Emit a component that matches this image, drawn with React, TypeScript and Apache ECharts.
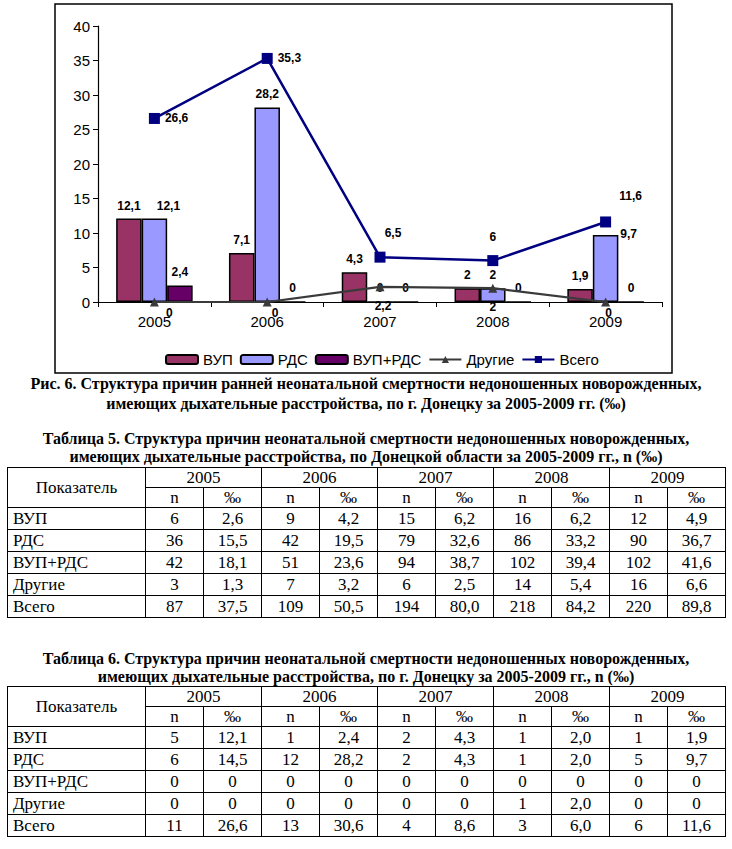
import React, { useEffect, useRef } from "react";
import * as echarts from "echarts";

const years = ["2005", "2006", "2007", "2008", "2009"];
const vup = [12.1, 7.1, 4.3, 2, 1.9];
const rds = [12.1, 28.2, 0, 2, 9.7];
const vupRds = [2.4, 0, 0, 0, 0];
const other = [0, 0, 2.2, 2, 0];
const total = [26.6, 35.3, 6.5, 6, 11.6];
const yMin = 0;
const yMax = 40;
const yStep = 5;

const rowNames = ["ВУП", "РДС", "ВУП+РДС", "Другие", "Всего"];
const t5N = [
  [6, 9, 15, 16, 12],
  [36, 42, 79, 86, 90],
  [42, 51, 94, 102, 102],
  [3, 7, 6, 14, 16],
  [87, 109, 194, 218, 220],
];
const t5P = [
  ["2,6", "4,2", "6,2", "6,2", "4,9"],
  ["15,5", "19,5", "32,6", "33,2", "36,7"],
  ["18,1", "23,6", "38,7", "39,4", "41,6"],
  ["1,3", "3,2", "2,5", "5,4", "6,6"],
  ["37,5", "50,5", "80,0", "84,2", "89,8"],
];
const t6N = [
  [5, 1, 2, 1, 1],
  [6, 12, 2, 1, 5],
  [0, 0, 0, 0, 0],
  [0, 0, 0, 1, 0],
  [11, 13, 4, 3, 6],
];
const t6P = [
  ["12,1", "2,4", "4,3", "2,0", "1,9"],
  ["14,5", "28,2", "4,3", "2,0", "9,7"],
  ["0", "0", "0", "0", "0"],
  ["0", "0", "0", "2,0", "0"],
  ["26,6", "30,6", "8,6", "6,0", "11,6"],
];

const SANS = '"Liberation Sans", Arial, sans-serif';
const SERIF = '"Liberation Serif", "Times New Roman", serif';

const fmt = (v: number) => String(v).replace(".", ",");

// label placement styles (not data)
const otherLabelOffsets = [[15, -5], [8, -5], [3, 4], [0, 3], [3, -5]];
const totalLabelCfg: any[] = [
  { position: "right", offset: [0, 0] },
  { position: "right", offset: [0, 0] },
  { position: "top", offset: [13, -8] },
  { position: "top", offset: [0, -7] },
  { position: "top", offset: [25, -9] },
];

function Chart() {
  const ref = useRef<HTMLDivElement>(null);
  useEffect(() => {
    if (!ref.current) return;
    const chart = echarts.init(ref.current, null, { renderer: "svg" });
    const barLabel = {
      show: true,
      position: "top",
      distance: 7,
      color: "#000",
      fontWeight: "bold",
      fontSize: 12,
      fontFamily: SANS,
      formatter: (p: any) => fmt(p.value),
    };
    chart.setOption({
      animation: false,
      backgroundColor: "#fff",
      textStyle: { fontFamily: SANS },
      grid: { left: 98, right: 70, top: 26, bottom: 78 },
      legend: {
        left: 160,
        top: 347,
        itemWidth: 32,
        itemHeight: 9,
        itemGap: 7,
        textStyle: { fontSize: 15, color: "#000", fontFamily: SANS },
        data: ["ВУП", "РДС", "ВУП+РДС", "Другие", "Всего"],
      },
      graphic: [
        {
          type: "rect",
          shape: { x: 55, y: 4, width: 617, height: 369 },
          style: { fill: "none", stroke: "#000", lineWidth: 1.5 },
          silent: true,
        },
      ],
      xAxis: {
        type: "category",
        data: years,
        axisLine: { lineStyle: { color: "#000", width: 1.2 } },
        axisTick: { show: true, length: 5, lineStyle: { color: "#000" } },
        axisLabel: { color: "#000", fontSize: 15, margin: 12, fontFamily: SANS },
        splitLine: { show: false },
      },
      yAxis: {
        type: "value",
        min: yMin,
        max: yMax,
        interval: yStep,
        axisLine: { show: true, lineStyle: { color: "#000", width: 1.2 } },
        axisTick: { show: true, length: 5, lineStyle: { color: "#000" } },
        axisLabel: { color: "#000", fontSize: 15, margin: 8, fontFamily: SANS },
        splitLine: { show: false },
      },
      series: [
        {
          name: "ВУП",
          type: "bar",
          data: vup,
          barWidth: 25.5,
          barGap: "0%",
          itemStyle: { color: "#993366", borderColor: "#000", borderWidth: 1.5 },
          label: barLabel,
        },
        {
          name: "РДС",
          type: "bar",
          data: rds.map((v, i) =>
            i === 4
              ? {
                  value: v,
                  label: { position: ["100%", 0], align: "left", verticalAlign: "middle", offset: [2, -1] },
                }
              : i === 0
              ? { value: v, label: { offset: [14, 0] } }
              : v
          ),
          barWidth: 25.5,
          barGap: "0%",
          itemStyle: { color: "#9999FF", borderColor: "#000", borderWidth: 1.5 },
          label: barLabel,
        },
        {
          name: "ВУП+РДС",
          type: "bar",
          data: vupRds,
          barWidth: 25.5,
          barGap: "0%",
          itemStyle: { color: "#660066", borderColor: "#000", borderWidth: 1.5 },
          label: barLabel,
        },
        {
          name: "Другие",
          type: "line",
          z: 5,
          data: other.map((v, i) => ({ value: v, label: { offset: otherLabelOffsets[i] } })),
          symbol: "triangle",
          symbolSize: 9,
          lineStyle: { color: "#3a3a3a", width: 2.2 },
          itemStyle: { color: "#3a3a3a" },
          label: {
            show: true,
            position: "bottom",
            color: "#000",
            fontWeight: "bold",
            fontSize: 12,
            fontFamily: SANS,
            formatter: (p: any) => fmt(p.value),
          },
        },
        {
          name: "Всего",
          type: "line",
          z: 6,
          data: total.map((v, i) => ({ value: v, label: totalLabelCfg[i] })),
          symbol: "rect",
          symbolSize: 11,
          lineStyle: { color: "#000080", width: 2.5 },
          itemStyle: { color: "#000080" },
          label: {
            show: true,
            color: "#000",
            fontWeight: "bold",
            fontSize: 12,
            fontFamily: SANS,
            distance: 5,
            formatter: (p: any) => fmt(p.value),
          },
        },
      ],
    });
    return () => chart.dispose();
  }, []);
  return <div ref={ref} style={{ position: "absolute", left: 0, top: 0, width: 732, height: 380 }} />;
}

const cell: React.CSSProperties = {
  border: "1px solid #000",
  padding: 0,
  textAlign: "center",
  fontFamily: SERIF,
  fontSize: 17,
  lineHeight: "18px",
  whiteSpace: "nowrap",
};

function DataTable({ top, nData, pData }: { top: number; nData: number[][]; pData: string[][] }) {
  return (
    <table
      style={{
        position: "absolute",
        left: 7,
        top,
        width: 719,
        borderCollapse: "collapse",
        tableLayout: "fixed",
      }}
    >
      <colgroup>
        <col style={{ width: 138 }} />
        {years.map((y) => (
          <React.Fragment key={y}>
            <col style={{ width: 58 }} />
            <col style={{ width: 58 }} />
          </React.Fragment>
        ))}
      </colgroup>
      <tbody>
        <tr style={{ height: 20 }}>
          <td rowSpan={2} style={cell}>
            Показатель
          </td>
          {years.map((y) => (
            <td key={y} colSpan={2} style={cell}>
              {y}
            </td>
          ))}
        </tr>
        <tr style={{ height: 20 }}>
          {years.map((y) => (
            <React.Fragment key={y}>
              <td style={cell}>n</td>
              <td style={cell}>‰</td>
            </React.Fragment>
          ))}
        </tr>
        {rowNames.map((r, ri) => (
          <tr key={r} style={{ height: 22 }}>
            <td style={{ ...cell, textAlign: "left", paddingLeft: 5 }}>{r}</td>
            {years.map((y, yi) => (
              <React.Fragment key={y}>
                <td style={cell}>{nData[ri][yi]}</td>
                <td style={cell}>{pData[ri][yi]}</td>
              </React.Fragment>
            ))}
          </tr>
        ))}
      </tbody>
    </table>
  );
}

const caption: React.CSSProperties = {
  position: "absolute",
  left: 0,
  width: 732,
  textAlign: "center",
  fontFamily: SERIF,
  fontWeight: "bold",
  fontSize: 16,
  whiteSpace: "nowrap",
  color: "#000",
};

export default function App() {
  return (
    <div style={{ position: "absolute", left: 0, top: 0, width: 732, height: 849, background: "#fff" }}>
      <Chart />
      <div style={{ ...caption, top: 374, lineHeight: "20px" }}>
        Рис. 6. Структура причин ранней неонатальной смертности недоношенных новорожденных,
        <br />
        имеющих дыхательные расстройства, по г. Донецку за 2005-2009 гг. (‰)
      </div>
      <div style={{ ...caption, top: 430, lineHeight: "18px" }}>
        Таблица 5. Структура причин неонатальной смертности недоношенных новорожденных,
        <br />
        имеющих дыхательные расстройства, по Донецкой области за 2005-2009 гг., n (‰)
      </div>
      <DataTable top={467} nData={t5N} pData={t5P} />
      <div style={{ ...caption, top: 650, lineHeight: "18px" }}>
        Таблица 6. Структура причин неонатальной смертности недоношенных новорожденных,
        <br />
        имеющих дыхательные расстройства, по г. Донецку за 2005-2009 гг., n (‰)
      </div>
      <DataTable top={686} nData={t6N} pData={t6P} />
    </div>
  );
}
